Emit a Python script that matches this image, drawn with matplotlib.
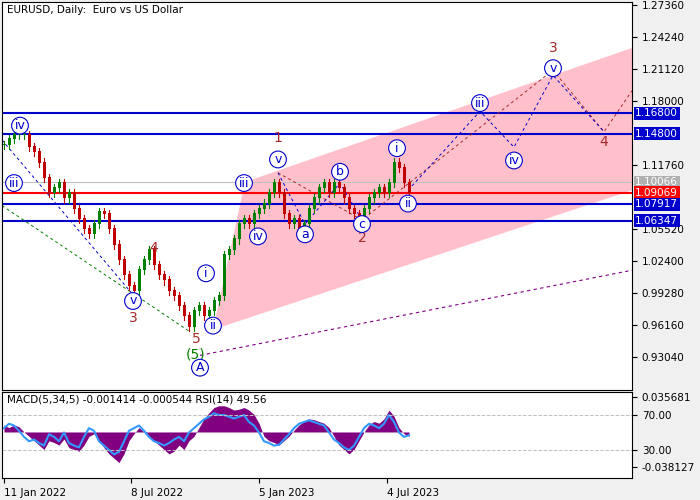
import matplotlib
matplotlib.use("Agg")
import matplotlib.pyplot as plt
import numpy as np
from matplotlib.transforms import blended_transform_factory as btf

closes = [1.137,1.143,1.147,1.147,1.147,1.135,1.13,1.12,1.105,1.09,1.095,1.10,1.085,1.09,1.075,1.065,
          1.055,1.05,1.06,1.072,1.07,1.055,1.04,1.025,1.01,1.0,0.995,1.015,1.025,1.035,1.02,1.01,
          1.005,0.995,0.99,0.98,0.97,0.96,0.975,0.98,0.97,0.975,0.985,0.99,1.03,1.035,1.045,1.06,
          1.065,1.06,1.07,1.075,1.08,1.09,1.10,1.09,1.07,1.06,1.065,1.055,1.06,1.075,1.085,1.095,
          1.10,1.09,1.10,1.095,1.085,1.075,1.07,1.068,1.075,1.085,1.09,1.095,1.09,1.10,1.12,1.115,1.10,1.0907]
macd = [8,5,8,6,0,-5,-10,-15,-20,-10,-12,-15,-8,-18,-20,-22,-15,-5,-2,-10,-18,-25,-30,-35,-25,-10,
        -2,5,0,-5,-10,-15,-20,-25,-22,-15,-20,-10,-5,5,15,22,28,30,30,28,25,26,28,25,20,10,-5,-10,
        -12,-15,-10,-5,2,8,12,15,14,12,10,5,-5,-15,-20,-25,-20,-10,0,8,12,10,15,25,18,5,-2,-5]
rsi = [55,60,58,52,45,40,42,38,35,48,45,40,50,38,35,33,45,55,52,40,35,30,25,28,40,52,55,58,52,45,
       40,38,35,38,42,45,40,50,55,60,65,68,72,70,70,68,66,68,70,62,58,50,40,38,35,36,42,48,55,60,
       62,64,62,60,58,50,42,38,33,30,35,45,55,60,58,55,60,70,62,50,45,47]
price_ticks = [1.27360,1.24240,1.21120,1.18000,1.11760,1.05520,1.02400,0.99280,0.96160,0.93040]
levels_blue = [1.16800,1.14800,1.07917,1.06347]
level_red = 1.09069
level_gray = 1.10066
date_labels = ["11 Jan 2022","8 Jul 2022","5 Jan 2023","4 Jul 2023"]
date_pos = [0,127,255,383]

fig = plt.figure(figsize=(7,5), dpi=100, facecolor="#F0F0F0")
ax = fig.add_axes([2/700, 110/500, 630/700, 388/500], facecolor="white")
ax2 = fig.add_axes([2/700, 22/500, 630/700, 86/500], facecolor="white")
ymax = 1.2736 + 3*0.000975
ymin = 1.2736 - 385*0.000975
ax.set_xlim(-2, 628); ax.set_ylim(ymin, ymax)
ax2.set_xlim(-2, 628); ax2.set_ylim(-2, 96.3)

ax.fill([209,241,628,628],[0.957,1.101,1.2317,1.093],color="#FFC0CB",zorder=0,lw=0)

x = np.arange(len(closes))*5
opens = [closes[0]]+closes[:-1]
for xi,o,c in zip(x,opens,closes):
    col = "#008000" if c>=o else "#c00000"
    ax.plot([xi,xi],[min(o,c)-0.004,max(o,c)+0.004],color=col,lw=0.8,zorder=3)
    ax.bar(xi,abs(c-o)+0.001,bottom=min(o,c),width=3,color=col,zorder=3)

for l in levels_blue:
    ax.axhline(l,color="#0000CC",lw=1.5,zorder=2)
ax.axhline(level_red,color="#FF0000",lw=1.5,zorder=2)
ax.axhline(level_gray,color="#C0C0C0",lw=0.8,zorder=2)

ax.plot([196,628],[0.932,1.015],ls=(0,(3,3)),color="#800080",lw=0.8)
ax.plot([-2,186],[1.078,0.955],ls=(0,(3,3)),color="#008000",lw=0.7)
ax.plot([-2,130],[1.142,0.99],ls=(0,(3,3)),color="#0000CC",lw=0.7)
ax.plot([274,358,549,600,628],[1.11,1.064,1.21,1.15,1.19],ls=(0,(3,3)),color="#A52A2A",lw=0.7)
ax.plot([404,476,510,549,600],[1.093,1.17,1.135,1.205,1.15],ls=(0,(3,3)),color="#0000CC",lw=0.7)
ax.plot([274,301,336,358],[1.11,1.06,1.10,1.064],ls=(0,(3,3)),color="#0000CC",lw=0.7)

circ = dict(boxstyle="circle,pad=0.15",fc="white",ec="#0000CC",lw=0.8)
for t,xx,yy in [("iv",16,1.156),("iii",10,1.1),("v",129,0.985),("i",202,1.012),("ii",209,0.961),
                ("iii",240,1.1),("iv",254,1.048),("v",274,1.123),("a",301,1.05),("b",336,1.111),
                ("c",358,1.06),("i",393,1.134),("ii",404,1.08),("iii",476,1.178),("iv",510,1.122),
                ("v",549,1.212),("A",196,0.92)]:
    ax.text(xx,yy,t,ha="center",va="center",color="#0000CC",fontsize=9,bbox=circ,zorder=5)
for t,xx,yy,c in [("3",129,0.968,"#A52A2A"),("4",150,1.037,"#A52A2A"),("5",192,0.948,"#A52A2A"),
                  ("1",274,1.144,"#A52A2A"),("2",358,1.046,"#A52A2A"),("3",549,1.232,"#A52A2A"),
                  ("4",600,1.14,"#A52A2A"),("(5)",192,0.933,"#008000")]:
    ax.text(xx,yy,t,ha="center",va="center",color=c,fontsize=10)

ax.text(3,1.2736,"EURUSD, Daily:  Euro vs US Dollar",fontsize=7.5,va="top")
ax.yaxis.tick_right()
ax.set_yticks(price_ticks)
ax.set_yticklabels([f"{p:.5f}" for p in price_ticks],fontsize=7.5)
ax.set_xticks([])
tr = btf(ax.transAxes, ax.transData)
for l,c in [(1.16800,"#0000CC"),(1.14800,"#0000CC"),(level_gray,"#B0B0B0"),(level_red,"#FF0000"),(1.07917,"#0000CC"),(1.06347,"#0000CC")]:
    ax.text(1.005,l,f"{l:.5f}",transform=tr,color="white",fontsize=7.5,va="center",
            bbox=dict(boxstyle="square,pad=0.15",fc=c,ec="none"))

base = 50.6
xm = np.arange(len(macd))*5
ax2.fill_between(xm,base,[base+m for m in macd],color="#800080",lw=0)
ax2.plot(np.arange(len(rsi))*5,rsi,color="#3399FF",lw=1.5)
ax2.axhline(70,color="#C0C0C0",ls="--",lw=0.7)
ax2.axhline(30,color="#C0C0C0",ls="--",lw=0.7)
ax2.text(3,93,"MACD(5,34,5) -0.001414 -0.000544 RSI(14) 49.56",fontsize=7.5,va="top")
ax2.yaxis.tick_right()
ax2.set_yticks([90.6,70,30,10.6])
ax2.set_yticklabels(["0.035681","70.00","30.00","-0.038127"],fontsize=7.5)
ax2.set_xticks(date_pos)
ax2.set_xticklabels(date_labels,fontsize=7.5,ha="left")
fig.savefig("out.png",dpi=100,facecolor=fig.get_facecolor())
